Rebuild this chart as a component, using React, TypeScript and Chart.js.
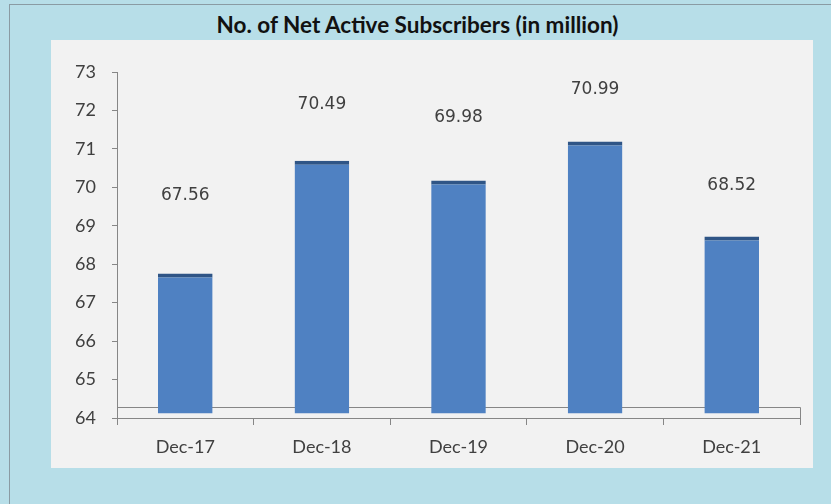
import React, { useEffect, useRef } from "react";
import { Chart, registerables } from "chart.js";

Chart.register(...registerables);

// ---- data ----
const categories = ["Dec-17", "Dec-18", "Dec-19", "Dec-20", "Dec-21"];
const subscribers = [67.56, 70.49, 69.98, 70.99, 68.52];
const yTickValues = [64, 65, 66, 67, 68, 69, 70, 71, 72, 73];
const Y_MIN = 64;
const Y_MAX = 73;
const chartTitle = "No. of Net Active Subscribers (in million)";

// ---- style constants (3-D look of the original) ----
const BAR_BASE = 64.12; // columns stand in the middle of the floor
const DEPTH = 0.2; // visible 3-D lift of the column tops
const FLOOR_PX = 11; // floor depth in pixels
const LABEL_LIFT = [78, 56, 63, 52, 51]; // pixel gap label-centre above column top

const W = 831;
const H = 504;
const AXIS_COLOR = "#868686";
const TEXT_COLOR = "#404040";

const floorAndLabels = {
  id: "floorAndLabels",
  beforeDatasetsDraw(chart: any) {
    const { ctx, chartArea, scales } = chart;
    const y0 = scales.y.getPixelForValue(Y_MIN);
    const top = Math.round(y0 - FLOOR_PX) + 0.5;
    ctx.save();
    ctx.strokeStyle = AXIS_COLOR;
    ctx.lineWidth = 1;
    ctx.beginPath();
    ctx.moveTo(chartArea.left, top);
    ctx.lineTo(Math.round(chartArea.right) + 0.5, top);
    ctx.lineTo(Math.round(chartArea.right) + 0.5, y0);
    ctx.stroke();
    ctx.restore();
  },
  afterDatasetsDraw(chart: any) {
    const { ctx } = chart;
    const meta = chart.getDatasetMeta(0);
    ctx.save();
    ctx.fillStyle = TEXT_COLOR;
    ctx.font = "17px 'DejaVu Sans'";
    ctx.textAlign = "center";
    ctx.textBaseline = "middle";
    meta.data.forEach((bar: any, i: number) => {
      ctx.fillText(subscribers[i].toFixed(2), bar.x, bar.y - LABEL_LIFT[i]);
    });
    ctx.restore();
  },
};

export default function App() {
  const canvasRef = useRef<HTMLCanvasElement | null>(null);

  useEffect(() => {
    const canvas = canvasRef.current;
    if (!canvas) return;
    const chart = new Chart(canvas, {
      type: "bar",
      data: {
        labels: categories,
        datasets: [
          {
            data: subscribers.map((v) => [BAR_BASE, v + DEPTH]) as any,
            backgroundColor: "#4f81c2",
            borderColor: "#2f5586",
            borderWidth: { top: 4, left: 0, right: 0, bottom: 0 },
            borderSkipped: false,
            barPercentage: 0.4,
            categoryPercentage: 1,
          },
        ],
      },
      options: {
        responsive: false,
        animation: false,
        devicePixelRatio: 1,
        layout: { padding: { top: 72, right: 31, left: 0, bottom: 0 } },
        plugins: {
          legend: { display: false },
          tooltip: { enabled: false },
          title: { display: false },
        },
        scales: {
          x: {
            offset: true,
            afterFit(scale: any) {
              scale.height = 86;
            },
            grid: {
              display: true,
              offset: true,
              drawOnChartArea: false,
              drawTicks: true,
              tickLength: 7,
              color: AXIS_COLOR,
            },
            border: { display: true, color: AXIS_COLOR, width: 1 },
            ticks: {
              color: TEXT_COLOR,
              font: { family: "Lato", size: 18 },
              padding: 11,
              maxRotation: 0,
            },
          },
          y: {
            min: Y_MIN,
            max: Y_MAX,
            afterFit(scale: any) {
              scale.width = 117;
            },
            afterBuildTicks(scale: any) {
              scale.ticks = yTickValues.map((v) => ({ value: v }));
            },
            grid: {
              display: true,
              drawOnChartArea: false,
              drawTicks: true,
              tickLength: 5,
              color: AXIS_COLOR,
            },
            border: { display: true, color: AXIS_COLOR, width: 1 },
            ticks: {
              color: TEXT_COLOR,
              font: { family: "Lato", size: 18 },
              padding: 16,
            },
          },
        },
      },
      plugins: [floorAndLabels],
    });
    return () => chart.destroy();
  }, []);

  return (
    <div
      style={{
        position: "fixed",
        left: 0,
        top: 0,
        width: W,
        height: H,
        background: "#b7dee8",
        overflow: "hidden",
      }}
    >
      <div
        style={{
          position: "absolute",
          left: 9,
          top: 4,
          right: 0,
          bottom: 0,
          borderLeft: "1px solid #8a9ba3",
          borderTop: "1px solid #8a9ba3",
        }}
      />
      <div
        style={{
          position: "absolute",
          left: 51,
          top: 40,
          width: 762,
          height: 428,
          background: "#f2f2f2",
        }}
      />
      <div
        style={{
          position: "absolute",
          left: 0,
          top: 11,
          width: 835,
          textAlign: "center",
          fontFamily: "Lato",
          fontWeight: 700,
          fontSize: 22.5,
          lineHeight: "28px",
          color: "#111111",
        }}
      >
        {chartTitle}
      </div>
      <canvas
        ref={canvasRef}
        width={W}
        height={H}
        style={{ position: "absolute", left: 0, top: 0, width: W, height: H }}
      />
    </div>
  );
}
